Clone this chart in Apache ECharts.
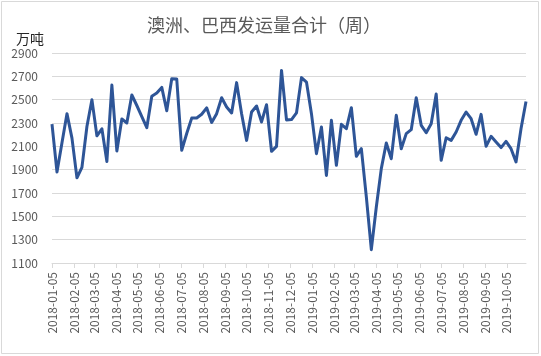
<!DOCTYPE html>
<html>
<head>
<meta charset="utf-8">
<script src="https://cdn.jsdelivr.net/npm/echarts@6/dist/echarts.min.js"></script>
<style>
html,body{margin:0;padding:0;background:#fff;}
#chart{width:541px;height:356px;}
</style>
</head>
<body>
<div id="chart"></div>
<script>
// Weekly data, first week 2018-01-05
var startDate = '2018-01-05';
var values = [
  2290, 1880, 2130, 2380, 2170, 1830, 1920, 2270, 2500, 2190,
  2250, 1970, 2625, 2060, 2335, 2300, 2540, 2450, 2355, 2260,
  2530, 2557, 2605, 2405, 2680, 2677, 2066, 2210, 2342, 2343,
  2375, 2430, 2305, 2380, 2516, 2437, 2386, 2646, 2380, 2151,
  2394, 2446, 2309, 2457, 2057, 2100, 2751, 2326, 2329, 2386,
  2689, 2651, 2380, 2037, 2266, 1851, 2323, 1937, 2289, 2251,
  2431, 2014, 2080, 1666, 1214, 1580, 1909, 2129, 1994, 2366,
  2080, 2209, 2243, 2517, 2280, 2217, 2294, 2548, 1980, 2174,
  2151, 2223, 2323, 2394, 2337, 2203, 2374, 2100, 2186, 2137,
  2089, 2143, 2080, 1966, 2251, 2485
];
var monthLabels = ['2018-01-05','2018-02-05','2018-03-05','2018-04-05','2018-05-05','2018-06-05',
  '2018-07-05','2018-08-05','2018-09-05','2018-10-05','2018-11-05','2018-12-05',
  '2019-01-05','2019-02-05','2019-03-05','2019-04-05','2019-05-05','2019-06-05',
  '2019-07-05','2019-08-05','2019-09-05','2019-10-05'];
var yTicks = [1100, 1300, 1500, 1700, 1900, 2100, 2300, 2500, 2700, 2900];
var titleText = '澳洲、巴西发运量合计（周）';
var unitText = '万吨';

function parseUTC(s){ var p = s.split('-'); return Date.UTC(+p[0], +p[1]-1, +p[2]); }
function fmt(t){
  var d = new Date(t);
  var m = d.getUTCMonth()+1, dd = d.getUTCDate();
  return d.getUTCFullYear() + '-' + (m<10?'0':'') + m + '-' + (dd<10?'0':'') + dd;
}
var WEEK = 7*24*3600*1000;
var t0 = parseUTC(startDate);
var seriesData = values.map(function(v,i){ return [t0 + i*WEEK, v]; });
var tickValues = monthLabels.map(parseUTC);

var chart = echarts.init(document.getElementById('chart'), null, {renderer:'canvas'});
var font = '"Noto Sans CJK SC", "Noto Sans", sans-serif';
chart.setOption({
  animation: false,
  backgroundColor: '#fff',
  title: [{
    text: titleText, left: 142, top: 11,
    textStyle: {fontFamily: font, fontSize: 18, fontWeight: 'normal', color: '#595959'}
  },{
    text: unitText, left: 11, top: 27,
    textStyle: {fontFamily: font, fontSize: 14, fontWeight: 'normal', color: '#262626'}
  }],
  graphic: [{
    type: 'rect', silent: true,
    shape: {x: 1.5, y: 1.5, width: 537, height: 352},
    style: {fill: 'none', stroke: '#d9d9d9', lineWidth: 1}
  }],
  grid: {left: 52, right: 15, top: 53, bottom: 93},
  xAxis: {
    type: 'value',
    min: t0,
    max: t0 + (values.length-1)*WEEK,
    axisLine: {show: true, lineStyle: {color: '#d9d9d9'}},
    axisTick: {show: true, length: 5, lineStyle: {color: '#d9d9d9'}, customValues: tickValues},
    splitLine: {show: false},
    axisLabel: {
      customValues: tickValues,
      rotate: 90, margin: 9,
      fontFamily: font, fontSize: 12, color: '#595959',
      formatter: function(v){ return fmt(v); }
    }
  },
  yAxis: {
    type: 'value', min: yTicks[0], max: yTicks[yTicks.length-1], interval: 200,
    axisLine: {show: false}, axisTick: {show: false},
    splitLine: {lineStyle: {color: '#d9d9d9'}},
    axisLabel: {margin: 14, fontFamily: font, fontSize: 12, color: '#595959',
      formatter: function(v){ return String(v); }}
  },
  series: [{
    type: 'line', data: seriesData, showSymbol: false, symbol: 'none',
    lineStyle: {color: '#2e5597', width: 3, join: 'round'}
  }]
});
</script>
</body>
</html>
